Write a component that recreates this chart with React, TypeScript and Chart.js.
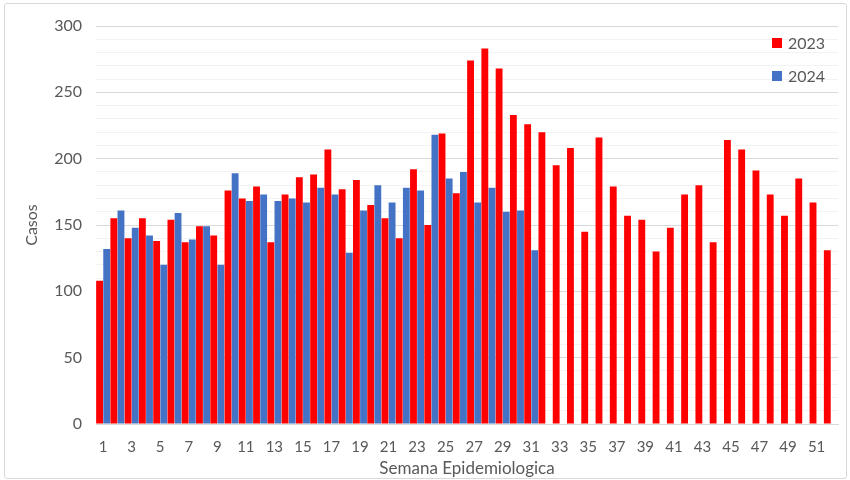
import React, { useEffect, useRef } from "react";
import { Chart, registerables } from "chart.js";

Chart.register(...registerables);

const weeks: string[] = Array.from({ length: 52 }, (_, i) => String(i + 1));

const cases2023: number[] = [
  108, 155, 140, 155, 138, 154, 137, 149, 142, 176,
  170, 179, 137, 173, 186, 188, 207, 177, 184, 165,
  155, 140, 192, 150, 219, 174, 274, 283, 268, 233,
  226, 220, 195, 208, 145, 216, 179, 157, 154, 130,
  148, 173, 180, 137, 214, 207, 191, 173, 157, 185,
  167, 131,
];

const cases2024: (number | null)[] = [
  132, 161, 148, 142, 120, 159, 139, 149, 120, 189,
  168, 173, 168, 170, 167, 178, 173, 129, 161, 180,
  167, 178, 176, 218, 185, 190, 167, 178, 160, 161,
  131,
];

const seriesLabels = ["2023", "2024"];
const seriesColors = ["#FF0000", "#4472C4"];
const yTitle = "Casos";
const xTitle = "Semana Epidemiologica";

const FONT = "Lato, 'Noto Sans', sans-serif";
const TEXT = "#595959";

const legendPlugin = {
  id: "insideLegend",
  afterDraw(chart: any) {
    const ctx = chart.ctx;
    ctx.save();
    chart.data.datasets.forEach((ds: any, i: number) => {
      const y = 43 + i * 33;
      ctx.fillStyle = ds.backgroundColor;
      ctx.fillRect(772, y - 5, 10, 10);
      ctx.fillStyle = TEXT;
      ctx.font = `16px ${FONT}`;
      ctx.textBaseline = "middle";
      ctx.textAlign = "left";
      ctx.fillText(ds.label, 788, y + 1);
    });
    ctx.restore();
  },
};

export default function App() {
  const ref = useRef<HTMLCanvasElement>(null);

  useEffect(() => {
    document.body.style.margin = "0";
    const chart = new Chart(ref.current!, {
      type: "bar",
      data: {
        labels: weeks,
        datasets: [
          {
            label: seriesLabels[0],
            data: cases2023,
            backgroundColor: seriesColors[0],
            categoryPercentage: 1.0,
            barPercentage: 0.96,
          },
          {
            label: seriesLabels[1],
            data: cases2024,
            backgroundColor: seriesColors[1],
            categoryPercentage: 1.0,
            barPercentage: 0.96,
          },
        ],
      },
      options: {
        animation: false,
        responsive: false,
        maintainAspectRatio: false,
        layout: { padding: { top: 26, right: 12, left: 0, bottom: 0 } },
        plugins: {
          legend: { display: false },
          tooltip: { enabled: false },
        },
        scales: {
          x: {
            grid: { display: false, drawTicks: false },
            border: { display: true, color: "#d9d9d9", width: 1 },
            ticks: {
              autoSkip: false,
              maxRotation: 0,
              padding: 14,
              color: TEXT,
              font: { family: FONT, size: 15 },
              callback: (_v: any, i: number) => (i % 2 === 0 ? weeks[i] : ""),
            },
            title: {
              display: true,
              text: xTitle,
              color: TEXT,
              font: { family: FONT, size: 17 },
              padding: { top: 0, bottom: 1 },
            },
            afterFit: (s: any) => {
              s.height = 56;
            },
          },
          y: {
            min: 0,
            max: 300,
            grid: {
              drawTicks: false,
              color: (c: any) =>
                c.tick && c.tick.value % 50 === 0 ? "#d9d9d9" : "#f2f2f2",
              lineWidth: 1,
            },
            border: { display: false },
            ticks: {
              stepSize: 10,
              autoSkip: false,
              padding: 14,
              color: TEXT,
              font: { family: FONT, size: 16 },
              callback: (v: any) => (Number(v) % 50 === 0 ? String(v) : ""),
            },
            title: {
              display: true,
              text: yTitle,
              color: TEXT,
              font: { family: FONT, size: 16 },
              padding: { top: 22, bottom: 0 },
            },
            afterFit: (s: any) => {
              s.width = 96;
            },
          },
        },
      },
      plugins: [legendPlugin],
    });
    return () => chart.destroy();
  }, []);

  return (
    <div style={{ position: "relative", width: 850, height: 480, background: "#fff" }}>
      <canvas ref={ref} width={850} height={480} style={{ display: "block" }} />
      <div
        style={{
          position: "absolute",
          left: 4,
          top: 3,
          width: 841,
          height: 474,
          border: "1px solid #d9d9d9",
          borderRadius: 3,
          pointerEvents: "none",
        }}
      />
    </div>
  );
}
